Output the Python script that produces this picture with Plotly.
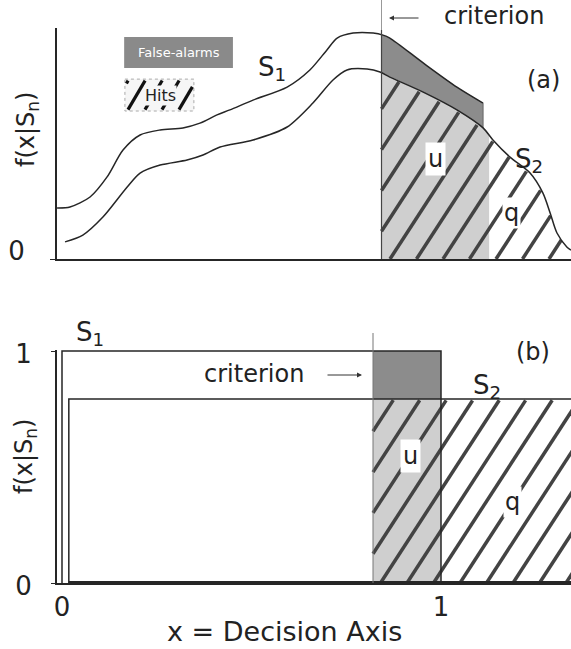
import numpy as np
import plotly.graph_objects as go

# ---------------- panel (a): densities ----------------
s1_x = [-0.013, 0.021, 0.074, 0.119, 0.161, 0.206, 0.259, 0.319, 0.364, 0.409, 0.443,
        0.504, 0.594, 0.654, 0.699, 0.726, 0.768, 0.821, 0.847, 0.865, 0.953, 1.042, 1.111]
s1_y = [0.224, 0.228, 0.272, 0.360, 0.478, 0.544, 0.566, 0.575, 0.596, 0.632, 0.654,
        0.697, 0.754, 0.829, 0.917, 0.969, 0.991, 0.991, 0.982, 0.969, 0.860, 0.754, 0.684]
s2_x = [0.008, 0.055, 0.108, 0.172, 0.206, 0.259, 0.330, 0.372, 0.417, 0.504, 0.594,
        0.662, 0.715, 0.752, 0.805, 0.839, 0.865, 0.953, 1.042, 1.111, 1.137, 1.182,
        1.235, 1.269, 1.288, 1.306, 1.332, 1.343]
s2_y = [0.075, 0.105, 0.184, 0.316, 0.377, 0.412, 0.434, 0.456, 0.491, 0.522, 0.579,
        0.684, 0.785, 0.829, 0.833, 0.820, 0.798, 0.732, 0.654, 0.575, 0.522, 0.447,
        0.377, 0.289, 0.202, 0.114, 0.053, 0.039]
crit_a = 0.843      # criterion position
fa_end_a = 1.111    # end of false-alarm band
u_end_a = 1.127     # end of the 'u' band
y_ticks_a = [0]
y_ticktext_a = ["0"]

# ---------------- panel (b): uniform densities ----------------
s1b_x = [0.0, 1.0]
s1b_h = 1.0
s2b_x = [0.018, 1.40]
s2b_h = 0.793
crit_b = 0.8206
x_ticks_b = [0, 1]
x_ticktext_b = ["0", "1"]
y_ticks_b = [0, 1]
y_ticktext_b = ["0", "1"]

FONT = "DejaVu Sans"
LINE = "#262626"
DARK = "#8c8c8c"
LIGHT = "#cfcfcf"
HATCH = "#434343"
W, H = 571, 649
XSCALE = 379.0          # px per x unit
YSCALE_A = 228.0        # px per y unit (a)
YSCALE_B = 232.0        # px per y unit (b)
XR = [-0.0132, 1.343]


def seg(xs, ys, a, b):
    xs = np.asarray(xs, float)
    ys = np.asarray(ys, float)
    m = (xs > a) & (xs < b)
    sx = [a] + list(xs[m]) + [b]
    sy = [float(np.interp(a, xs, ys))] + list(ys[m]) + [float(np.interp(b, xs, ys))]
    return sx, sy


def hatch_lines(xa, xb, top_fn, yscale, phase, spacing_px=26.5, slope_px=1.54, ymax=1.2):
    """Diagonal hatch lines clipped to region xa<=x<=xb, 0<=y<=top_fn(x)."""
    dx = spacing_px / XSCALE
    sd = slope_px * XSCALE / yscale
    k0 = np.floor((xa - ymax / sd - phase) / dx)
    k1 = np.ceil((xb - phase) / dx)
    hx, hy = [], []
    for k in np.arange(k0, k1 + 1):
        xb0 = phase + k * dx
        lo = max(xa, xb0)
        if lo >= xb:
            continue
        xs = np.linspace(lo, xb, 600)
        ys = sd * (xs - xb0)
        inside = ys <= top_fn(xs)
        if not inside[0]:
            continue
        stop = np.argmin(inside) - 1 if not inside.all() else len(xs) - 1
        hx += [xs[0], xs[stop], None]
        hy += [ys[0], ys[stop], None]
    return hx, hy


def px(x):
    return x / W


def py(y):
    return 1 - y / H


fig = go.Figure()
common = dict(hoverinfo="skip", showlegend=False)
curve_line = dict(color=LINE, width=1.5, shape="spline", smoothing=0.8)

# ---- panel (a) fills ----
ux, uy = seg(s2_x, s2_y, crit_a, u_end_a)
fig.add_trace(go.Scatter(x=ux + [u_end_a, crit_a], y=uy + [0, 0], fill="toself",
                         fillcolor=LIGHT, line=dict(width=0), mode="lines",
                         xaxis="x", yaxis="y", **common))
ha_x, ha_y = hatch_lines(crit_a, s2_x[-1], lambda x: np.interp(x, s2_x, s2_y) - 0.004,
                         YSCALE_A, phase=(390 - 62) / XSCALE)
fig.add_trace(go.Scatter(x=ha_x, y=ha_y, mode="lines", line=dict(color=HATCH, width=3.5),
                         xaxis="x", yaxis="y", **common))
tx, ty = seg(s1_x, s1_y, crit_a, fa_end_a)
bx, by = seg(s2_x, s2_y, crit_a, fa_end_a)
fig.add_trace(go.Scatter(x=tx + bx[::-1], y=ty + by[::-1], fill="toself",
                         fillcolor=DARK, line=dict(width=0), mode="lines",
                         xaxis="x", yaxis="y", **common))
# curves
fig.add_trace(go.Scatter(x=s1_x, y=s1_y, mode="lines", line=curve_line,
                         xaxis="x", yaxis="y", **common))
fig.add_trace(go.Scatter(x=[fa_end_a, fa_end_a],
                         y=[s1_y[-1], float(np.interp(fa_end_a, s2_x, s2_y))],
                         mode="lines", line=dict(color="#666", width=1),
                         xaxis="x", yaxis="y", **common))
fig.add_trace(go.Scatter(x=s2_x, y=s2_y, mode="lines", line=curve_line,
                         xaxis="x", yaxis="y", **common))

# legend boxes (a)
fig.add_trace(go.Scatter(x=[0.164, 0.451, 0.451, 0.164, 0.164], y=[0.974, 0.974, 0.838, 0.838, 0.974],
                         fill="toself", fillcolor="#8a8a8a", line=dict(width=0), mode="lines",
                         xaxis="x", yaxis="y", **common))
hits_box = [0.166, 0.348, 0.649, 0.789]
fig.add_trace(go.Scatter(x=[hits_box[0], hits_box[1], hits_box[1], hits_box[0], hits_box[0]],
                         y=[hits_box[3], hits_box[3], hits_box[2], hits_box[2], hits_box[3]],
                         fill="toself", fillcolor="#f6f6f6",
                         line=dict(width=1, color="#aaa", dash="dot"), mode="lines",
                         xaxis="x", yaxis="y", **common))
lx, ly = hatch_lines(hits_box[0] + 0.004, hits_box[1] - 0.004,
                     lambda x: np.full_like(x, hits_box[3] - hits_box[2] - 0.012),
                     YSCALE_A, phase=(128 - 62) / XSCALE, spacing_px=17, slope_px=1.7)
fig.add_trace(go.Scatter(x=lx, y=[None if v is None else v + hits_box[2] + 0.006 for v in ly],
                         mode="lines", line=dict(color="#111", width=3.2),
                         xaxis="x", yaxis="y", **common))

# ---- panel (b) fills ----
fig.add_trace(go.Scatter(x=[crit_b, s1b_x[1], s1b_x[1], crit_b, crit_b], y=[0, 0, s2b_h, s2b_h, 0],
                         fill="toself", fillcolor=LIGHT, line=dict(width=0), mode="lines",
                         xaxis="x2", yaxis="y2", **common))
hb_x, hb_y = hatch_lines(crit_b, XR[1] + 0.02, lambda x: np.full_like(x, s2b_h - 0.004),
                         YSCALE_B, phase=(460 - 62) / XSCALE)
fig.add_trace(go.Scatter(x=hb_x, y=hb_y, mode="lines", line=dict(color=HATCH, width=3.5),
                         xaxis="x2", yaxis="y2", **common))
fig.add_trace(go.Scatter(x=[crit_b, s1b_x[1], s1b_x[1], crit_b, crit_b], y=[s2b_h, s2b_h, s1b_h, s1b_h, s2b_h],
                         fill="toself", fillcolor=DARK, line=dict(width=0), mode="lines",
                         xaxis="x2", yaxis="y2", **common))
fig.add_trace(go.Scatter(x=[s1b_x[0], s1b_x[0], s1b_x[1], s1b_x[1]], y=[0, s1b_h, s1b_h, 0],
                         mode="lines", line=dict(color=LINE, width=1.5),
                         xaxis="x2", yaxis="y2", **common))
fig.add_trace(go.Scatter(x=[s2b_x[0], s2b_x[0], s2b_x[1]], y=[0, s2b_h, s2b_h],
                         mode="lines", line=dict(color=LINE, width=1.5),
                         xaxis="x2", yaxis="y2", **common))
fig.add_trace(go.Scatter(x=[s2b_x[0], s2b_x[1]], y=[0.004, 0.004],
                         mode="lines", line=dict(color=LINE, width=2),
                         xaxis="x2", yaxis="y2", **common))

xdom = [57 / W, 1]
axis_common = dict(showgrid=False, zeroline=False, showline=True, linecolor=LINE,
                   linewidth=2, automargin=False)

fig.update_layout(
    width=W, height=H, margin=dict(l=0, r=0, t=0, b=0, pad=0),
    paper_bgcolor="white", plot_bgcolor="white",
    font=dict(family=FONT, color="#222"),
    xaxis=dict(domain=xdom, range=XR, anchor="y", showticklabels=False, ticks="", **axis_common),
    yaxis=dict(domain=[py(259), py(28)], range=[0, 1.0132], anchor="x",
               tickvals=y_ticks_a, ticktext=y_ticktext_a, ticks="outside", ticklen=5,
               tickcolor=LINE, tickfont=dict(size=26, family=FONT, color="#222"),
               ticklabelstandoff=20, ticklabelshift=-8, **axis_common),
    xaxis2=dict(domain=xdom, range=XR, anchor="y2", tickvals=x_ticks_b, ticktext=x_ticktext_b,
                ticks="", tickfont=dict(size=26, family=FONT, color="#222"), **axis_common),
    yaxis2=dict(domain=[py(583), py(350)], range=[0, 1.0043], anchor="x2",
                tickvals=y_ticks_b, ticktext=y_ticktext_b, ticks="outside", ticklen=4,
                tickcolor=LINE, tickfont=dict(size=26, family=FONT, color="#222"),
                ticklabelstandoff=14, ticklabelshift=3, **axis_common),
)

# criterion verticals
fig.add_shape(type="line", xref="x", yref="paper", x0=crit_a, x1=crit_a, y0=py(259), y1=py(30),
              line=dict(color="#444", width=1.2))
fig.add_shape(type="line", xref="x", yref="paper", x0=crit_a, x1=crit_a, y0=py(30), y1=py(0),
              line=dict(color="#999", width=1))
fig.add_shape(type="line", xref="x2", yref="paper", x0=crit_b, x1=crit_b, y0=py(583), y1=py(333),
              line=dict(color="#777", width=1))

ann = []


def A(text, x, y, size, **kw):
    d = dict(text=text, x=px(x), y=py(y), xref="paper", yref="paper", showarrow=False,
             font=dict(size=size, family=FONT, color=kw.pop("color", "#222")),
             xanchor="center", yanchor="middle")
    d.update(kw)
    ann.append(d)


A("f(x|S<sub>n</sub>)", 27, 130, 24, textangle=-90)
A("f(x|S<sub>n</sub>)", 25, 457, 24, textangle=-90)
A("x = Decision Axis", 284, 631, 27)
A("criterion", 494, 16, 24)
A("criterion", 254, 374, 24)
A("(a)", 543, 80, 24)
A("(b)", 533, 352, 24)
A("S<sub>1</sub>", 272, 68, 26)
A("S<sub>2</sub>", 529, 160, 26)
A("S<sub>1</sub>", 90, 333, 26)
A("S<sub>2</sub>", 487, 386, 26)
A("u", 435, 159, 24, bgcolor="white", borderpad=2)
A("q", 511, 213, 24, bgcolor="white", borderpad=1)
A("u", 410, 456, 24, bgcolor="white", borderpad=2)
A("q", 512, 502, 24, bgcolor="white", borderpad=1)
A("False-alarms", 179, 52, 13, color="white")
A("Hits", 160, 95, 16, bgcolor="#f6f6f6", borderpad=0)
# arrows (offsets in pixels)
ann.append(dict(x=px(389), y=py(18), ax=31, ay=0, xref="paper", yref="paper",
                axref="pixel", ayref="pixel", text="", showarrow=True, arrowhead=2,
                arrowsize=1, arrowwidth=1, arrowcolor="#333"))
ann.append(dict(x=px(362), y=py(375), ax=-36, ay=0, xref="paper", yref="paper",
                axref="pixel", ayref="pixel", text="", showarrow=True, arrowhead=2,
                arrowsize=1, arrowwidth=1, arrowcolor="#333"))
fig.update_layout(annotations=ann)

fig.write_html("out.html")
